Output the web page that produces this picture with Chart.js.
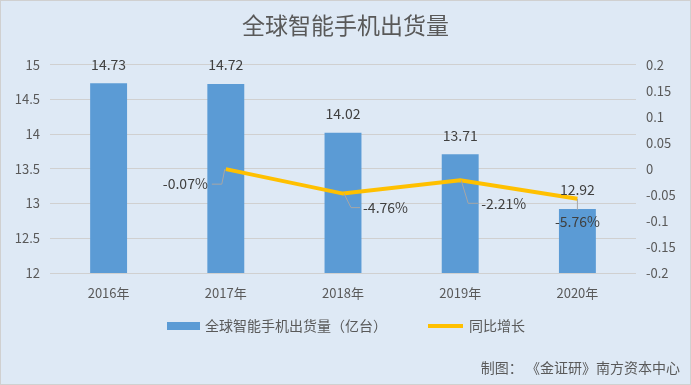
<!DOCTYPE html>
<html>
<head>
<meta charset="utf-8">
<script src="https://cdn.jsdelivr.net/npm/chart.js@4/dist/chart.umd.min.js"></script>
<style>
    html, body { margin: 0; padding: 0; background: #dee9f5; }
    #wrap { width: 691px; height: 385px; }
</style>
</head>
<body>
<div id="wrap"><canvas id="shipment_chart" width="691" height="385"></canvas></div>
<script>
const years = ['2016年', '2017年', '2018年', '2019年', '2020年']
const shipments = [14.73, 14.72, 14.02, 13.71, 12.92]
const growth = [null, -0.0007, -0.0476, -0.0221, -0.0576]
const growthLabels = [null, '-0.07%', '-4.76%', '-2.21%', '-5.76%']
const leftTicks = [12, 12.5, 13, 13.5, 14, 14.5, 15]
const rightTicks = [-0.2, -0.15, -0.1, -0.05, 0, 0.05, 0.1, 0.15, 0.2]

const FONT = '"Noto Sans CJK SC", "DejaVu Sans", sans-serif'
const TEXT = '#595959'

// label placement for the growth line
const growthLabelPos = [
    null,
    {dx: -18, dy: 15, align: 'right', leader: 'left'},
    {dx: 20, dy: 14, align: 'left', leader: 'right'},
    {dx: 21, dy: 23, align: 'left', leader: 'right'},
    {dx: 0, dy: 23, align: 'center', leader: 'down'}
]

const bgPlugin = {
    id: 'bg',
    beforeDraw: function (chart){
        const ctx = chart.ctx
        ctx.save()
        ctx.fillStyle = '#dee9f5'
        ctx.fillRect(0, 0, chart.width, chart.height)
        ctx.strokeStyle = '#d0d0d0'
        ctx.lineWidth = 1
        ctx.strokeRect(0.5, 0.5, chart.width - 1, chart.height - 1)
        ctx.restore()
    }
}

const labelPlugin = {
    id: 'labels',
    afterDatasetsDraw: function (chart){
        const ctx = chart.ctx
        ctx.save()
        ctx.font = '14px ' + FONT
        ctx.fillStyle = '#404040'
        ctx.textBaseline = 'middle'

        const bars = chart.getDatasetMeta(0).data
        bars.forEach(function (bar, i){
            ctx.textAlign = 'center'
            ctx.fillText(shipments[i].toFixed(2), bar.x, bar.y - 19)
        })

        const pts = chart.getDatasetMeta(1).data
        pts.forEach(function (pt, i){
            const pos = growthLabelPos[i]
            if (!pos || growth[i] === null) return
            const lx = pt.x + pos.dx
            const ly = pt.y + pos.dy
            ctx.strokeStyle = '#a6a6a6'
            ctx.lineWidth = 1
            ctx.beginPath()
            if (pos.leader === 'left'){
                ctx.moveTo(pt.x - 1, pt.y)
                ctx.lineTo(pt.x - 4, ly)
                ctx.lineTo(lx + 4, ly)
            } else if (pos.leader === 'right'){
                ctx.moveTo(pt.x + 1, pt.y)
                ctx.lineTo(pt.x + 8, ly)
                ctx.lineTo(lx - 3, ly)
            } else {
                ctx.moveTo(pt.x, pt.y)
                ctx.lineTo(pt.x, ly - 12)
            }
            ctx.stroke()
            ctx.textAlign = pos.align
            ctx.fillText(growthLabels[i], lx, ly)
        })

        // legend
        const ds = chart.data.datasets
        ctx.fillStyle = ds[0].backgroundColor
        ctx.fillRect(167, 322, 33, 8)
        ctx.strokeStyle = ds[1].borderColor
        ctx.lineWidth = 4
        ctx.beginPath()
        ctx.moveTo(428, 326)
        ctx.lineTo(463, 326)
        ctx.stroke()
        ctx.fillStyle = TEXT
        ctx.textAlign = 'left'
        ctx.fillText(ds[0].label, 205, 326)
        ctx.fillText(ds[1].label, 469, 326)

        // footer
        ctx.textAlign = 'right'
        ctx.fillText('制图： 《金证研》南方资本中心', chart.width - 11, 368)
        ctx.restore()
    }
}

const shipmentChart = new Chart(document.getElementById('shipment_chart').getContext('2d'), {
    data: {
        labels: years,
        datasets: [{
            type: 'bar',
            label: '全球智能手机出货量（亿台）',
            data: shipments,
            backgroundColor: '#5b9bd5',
            borderWidth: 0,
            yAxisID: 'y',
            barPercentage: 0.63,
            categoryPercentage: 0.5,
            order: 2
        }, {
            type: 'line',
            label: '同比增长',
            data: growth,
            borderColor: '#ffc000',
            backgroundColor: '#ffc000',
            borderWidth: 4,
            pointRadius: 0,
            tension: 0,
            yAxisID: 'y2',
            order: 1
        }]
    },
    options: {
        responsive: false,
        animation: false,
        layout: {padding: {left: 0, right: 0, top: 0, bottom: 76}},
        plugins: {
            title: {
                display: true,
                text: '全球智能手机出货量',
                color: TEXT,
                font: {family: FONT, size: 23, weight: 'normal'},
                padding: {top: 11, bottom: 26}
            },
            legend: {display: false},
            tooltip: {enabled: false}
        },
        scales: {
            x: {
                grid: {display: false, drawTicks: false},
                border: {display: false},
                ticks: {color: TEXT, font: {family: FONT, size: 13}, padding: 12},
                afterFit: function (scale){ scale.height = 36 }
            },
            y: {
                position: 'left',
                min: 12,
                max: 15,
                afterBuildTicks: function (scale){
                    scale.ticks = leftTicks.map(function (v){ return {value: v} })
                },
                grid: {color: '#d0d0d0', drawTicks: false},
                border: {display: false},
                ticks: {
                    color: TEXT,
                    font: {family: FONT, size: 13},
                    padding: 10,
                    callback: function (v){ return String(v) }
                },
                afterFit: function (scale){ scale.width = 50 }
            },
            y2: {
                position: 'right',
                min: -0.2,
                max: 0.2,
                afterBuildTicks: function (scale){
                    scale.ticks = rightTicks.map(function (v){ return {value: v} })
                },
                grid: {display: false, drawTicks: false},
                border: {display: false},
                ticks: {
                    color: TEXT,
                    font: {family: FONT, size: 13},
                    padding: 10,
                    callback: function (v){ return String(Math.round(v * 100) / 100) }
                },
                afterFit: function (scale){ scale.width = 55 }
            }
        }
    },
    plugins: [bgPlugin, labelPlugin]
})
</script>
</body>
</html>
